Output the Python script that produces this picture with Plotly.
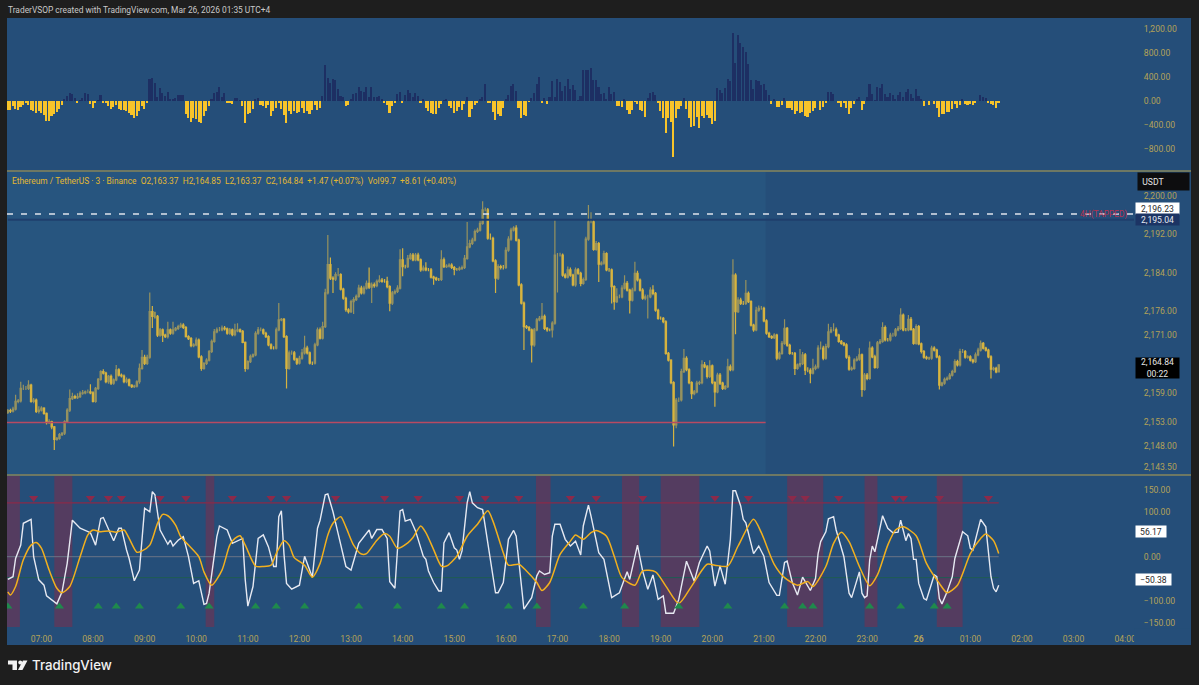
import pandas as pd
import plotly.graph_objects as go

# ETHUSDT 3min bars, 06:21 -> 01:33
times = pd.date_range("2026-03-25 06:21", periods=385, freq="3min")

first_open = 2154.9
closes = [
    2155.3,2155.2,2155.6,2157.2,2157.3,2159.9,2159.9,2159.9,2160.6,2157.2,
    2157.5,2155.1,2155.4,2155.8,2154.7,2152.8,2153.0,2151.9,2149.3,2149.5,
    2150.3,2150.6,2153.0,2155.4,2157.8,2158.2,2158.0,2158.2,2158.9,2159.0,
    2159.2,2159.2,2159.0,2157.2,2159.9,2161.8,2163.4,2163.1,2161.3,2162.4,
    2161.0,2161.7,2163.8,2162.7,2162.5,2161.3,2161.7,2160.6,2160.3,2160.4,
    2161.3,2164.1,2166.4,2165.1,2166.4,2175.9,2174.9,2174.9,2171.0,2172.1,
    2171.0,2170.7,2172.1,2171.4,2172.1,2172.4,2172.8,2173.1,2172.6,2170.7,
    2170.3,2168.8,2169.0,2170.0,2166.5,2164.1,2165.1,2165.8,2167.6,2169.7,
    2171.7,2172.1,2172.1,2172.5,2172.3,2171.4,2172.1,2171.1,2171.9,2172.1,
    2171.8,2169.5,2164.1,2165.5,2166.6,2166.9,2171.4,2172.1,2172.1,2171.4,
    2170.7,2169.0,2168.3,2168.3,2172.1,2174.2,2174.3,2170.7,2164.1,2167.3,
    2167.3,2166.0,2165.2,2166.2,2167.3,2168.3,2167.3,2165.2,2165.2,2169.0,
    2172.1,2170.4,2172.8,2179.8,2185.7,2182.9,2182.7,2183.6,2183.6,2180.6,
    2178.7,2176.3,2175.9,2178.0,2178.4,2179.1,2180.8,2179.8,2180.8,2181.8,
    2181.0,2181.5,2181.3,2182.2,2182.5,2182.2,2182.2,2181.1,2177.7,2179.8,
    2180.1,2180.8,2186.7,2185.3,2185.3,2187.0,2187.7,2186.7,2187.7,2186.7,
    2184.6,2185.0,2184.6,2184.6,2183.1,2182.9,2182.6,2182.6,2186.7,2185.3,
    2185.4,2185.6,2185.1,2184.7,2184.7,2184.9,2185.1,2187.0,2189.4,2190.1,
    2190.8,2192.6,2192.9,2194.3,2197.1,2197.1,2191.2,2191.2,2186.5,2182.9,
    2185.3,2185.1,2185.1,2188.7,2191.0,2192.9,2193.3,2190.8,2181.5,2177.7,
    2172.8,2172.6,2172.1,2169.0,2172.1,2174.2,2174.5,2174.9,2172.4,2172.1,
    2172.1,2173.5,2187.7,2187.7,2187.7,2183.5,2183.1,2184.6,2183.5,2181.5,
    2184.6,2183.9,2181.8,2182.6,2191.0,2194.6,2194.6,2188.9,2190.1,2185.8,
    2186.0,2188.0,2184.6,2184.6,2181.1,2178.0,2179.0,2179.0,2180.8,2181.8,
    2180.4,2178.3,2180.4,2183.9,2182.5,2180.4,2178.7,2179.0,2179.0,2180.4,
    2179.7,2176.2,2174.5,2174.5,2173.8,2167.2,2165.8,2161.1,2152.3,2157.5,
    2157.5,2163.4,2166.2,2163.8,2161.1,2158.8,2159.2,2161.0,2161.1,2164.8,
    2164.4,2162.4,2164.6,2161.1,2159.2,2162.7,2161.0,2159.9,2160.3,2164.4,
    2163.8,2183.5,2175.9,2178.3,2177.6,2177.6,2179.7,2178.0,2173.1,2172.1,
    2176.2,2176.6,2176.6,2174.0,2171.4,2170.7,2170.5,2171.0,2166.2,2167.2,
    2169.3,2172.4,2168.9,2167.2,2167.2,2164.1,2164.8,2165.1,2166.9,2163.7,
    2163.7,2163.1,2164.1,2164.4,2168.3,2168.3,2166.2,2168.6,2171.7,2172.1,
    2172.1,2171.0,2169.7,2169.3,2169.0,2166.4,2163.9,2164.1,2165.8,2166.0,
    2166.9,2159.7,2162.7,2162.0,2168.3,2166.5,2164.3,2169.4,2169.7,2172.6,
    2170.0,2170.0,2171.0,2171.0,2172.1,2172.4,2175.2,2172.1,2172.1,2174.3,
    2172.2,2169.3,2172.8,2169.2,2167.6,2166.4,2166.2,2166.2,2168.3,2167.9,
    2166.5,2160.6,2161.0,2161.8,2162.0,2162.7,2163.4,2165.5,2164.8,2167.6,
    2167.6,2166.4,2166.5,2165.8,2165.5,2166.9,2167.9,2169.3,2168.3,2167.9,
    2166.5,2163.9,2164.1,2163.37,2164.84,
]
wick_up = [
    .3,.4,.5,1.4,.4,1.4,.8,.5,1,.3, .4,.3,.8,.4,.2,.2,.5,.2,.2,.3,
    .3,.2,.3,.4,1.9,.8,.4,.7,.4,.6, .3,.5,1.6,.3,.3,.3,.3,.5,.3,.3,
    .4,.3,1,.3,.3,.3,.5,.3,.2,.3, .3,1,1.5,.5,.5,4,1.2,1,.3,.4,
    .3,.3,1.7,.3,1.7,.3,.4,.5,.4,.3, .3,.3,.3,.5,.3,.3,.3,.4,.3,.4,
    .6,.5,.6,.5,.4,.3,.4,.3,1.5,1.4, .3,.3,.2,.3,.4,.3,.4,.6,.5,.3,
    .3,.3,.3,.4,.5,3.5,.3,.3,.3,.5, .5,.4,.3,.5,.8,2.6,.5,.3,.3,.4,
    .5,.5,1,.9,6.2,1.5,.4,.5,1.4,.3, .3,.3,.3,.4,.5,.4,.7,.5,.5,.6,
    3.3,.5,.5,.4,1,.4,.5,1,.3,.4, .4,.6,2.2,2.4,.4,.7,.4,.4,.4,.5,
    .3,.5,1.2,.4,.4,.3,.3,.3,2,.5, .4,.4,.4,.3,.3,.4,.4,.7,5.2,.8,
    .5,.4,.5,.6,1.8,.5,.4,1,.3,.3, .5,.4,.5,.6,.6,.5,.4,.6,.3,.3,
    .3,.3,.3,.3,.4,.4,.5,2.8,.4,.3, .3,.4,7.3,.4,.5,.3,.4,.7,.5,.3,
    .5,.4,.3,.4,.5,3.5,2,.4,.5,.3, .4,.6,.3,.4,.3,.3,1.8,.5,.6,1.7,
    .5,.3,.5,2.4,.5,.3,.4,.5,.4,.6, 1,.3,.3,.4,.3,.3,.3,.2,.3,.4,
    .5,.6,1.9,.4,.3,.3,.4,.5,.4,1, .6,.4,1.2,.3,.3,.5,.4,.3,.3,1.7,
    .5,3.3,.4,.6,.5,.5,2.8,.4,.3,.3, .7,.6,.5,.3,.3,.3,.3,.4,.3,.4,
    .5,1.9,.3,.3,.3,.3,.3,3,.6,.4, .6,.4,2,.5,.6,1.4,.5,.6,1.7,.6,
    1.4,.5,.3,.3,.3,.3,.4,.4,.4,.6, 1.4,.3,.4,.4,1.4,.4,.4,.4,.5,1.1,
    .4,.4,.5,.5,.4,.5,1.4,.3,.4,.9, .5,.3,.5,.3,.3,.3,.3,.3,.5,.4,
    .3,.3,.3,.4,.4,.4,.4,.5,.4,.6, .5,.3,.3,.3,.3,.5,.5,.6,.3,.3,
    .3,.3,.3,.3,.01,
]
wick_dn = [
    .3,.4,.3,.3,.4,.3,.3,.3,.3,.3, .4,.3,.4,.3,.3,.4,.3,.5,2.2,.3,
    .3,.3,.4,.3,.4,.3,.3,.3,.3,.3, .3,.3,.3,.2,.3,.3,.3,.3,.3,.4,
    .4,.3,.3,.3,.3,.3,.3,.3,.3,.3, .3,.4,.3,.3,.3,.3,2.4,.4,.4,.3,
    1.4,.3,.4,.3,.3,.3,.3,.3,.3,.2, .3,.3,.3,.3,.3,.5,.3,.3,.3,.3,
    .3,.3,.3,.3,.3,.3,.3,.3,.3,.3, .3,.2,.7,.3,.3,.3,.3,.3,.3,.3,
    .3,.3,.3,.3,.3,.3,.3,.3,4.2,.3, .4,.3,.4,.3,.3,.3,.3,.3,.4,.3,
    .3,.3,.3,.3,.3,.4,2.9,.4,.3,.3, .3,.4,.4,.3,2.6,.3,.3,.3,.3,.3,
    .4,3.3,.4,.3,.3,.3,.3,.3,1.7,.4, .3,.3,.3,2,.4,.3,.3,.3,.3,.3,
    .4,.3,.3,.3,.3,1.4,.3,.3,.3,.3, .3,.3,.3,1.2,.3,.3,.3,.3,.3,.3,
    .3,.3,.3,.3,.3,.3,.3,.3,.3,3.1, .4,.4,.4,.3,.3,.3,.3,.3,.3,.3,
    4.9,.3,.3,3.7,.4,.3,.3,.3,.3,.4, .3,1.6,.3,7.8,.3,.3,.3,.3,.3,.3,
    .4,.3,.6,.3,.3,.3,.3,.3,.3,3.7, .3,.3,.3,.4,3.5,1.7,.3,.3,.3,.3,
    .3,2.8,.3,.3,.3,.3,.3,.4,4.5,.3, .4,.3,.3,.3,.3,.3,.3,.3,4.5,.7,
    .4,.3,.3,.3,.3,1.1,.3,.3,.4,.3, .3,.4,.3,.3,3.1,.3,.4,.3,.3,.3,
    .3,.3,4.7,.3,.3,.3,.3,.3,.3,.4, .3,.3,.3,.3,.3,.3,.3,.3,.4,.3,
    .3,.3,.3,.3,.3,1.4,.3,.5,.3,1, .4,2.1,.3,.4,.4,.3,.4,.3,.3,.3,
    .3,.3,.3,.3,.3,.3,.3,.3,.3,.3, .3,1.5,.3,.4,.3,.3,.3,.3,.3,.3,
    .3,.3,.3,.3,.3,.3,.3,.3,.3,.3, .3,.3,.3,.3,.4,.3,.3,.3,.3,.3,
    .3,.9,.3,.3,.3,.3,.3,.3,.3,.3, .3,.3,.3,.3,.4,.3,.3,.3,.3,.3,
    .3,1.9,.3,.3,.01,
]
# top pane histogram
hist = [
    -150,-150,-83,-139,-156,-100,-67,-28,-67,-150,
    -167,-195,-167,-206,-234,-334,-334,-250,-222,-178,
    -139,-67,17,83,139,122,56,-28,11,56,
    139,111,-56,-122,-17,3,100,-17,-28,-83,
    -139,-100,-72,-139,-150,-150,-167,-195,-234,-278,
    -250,-167,-83,-139,-17,361,389,306,67,211,
    139,83,150,17,28,44,100,100,100,-222,
    -278,-345,-289,-295,-350,-361,-250,-167,-83,17,
    139,156,234,67,139,-17,-17,-44,56,56,
    2,-83,-361,-222,-206,-139,28,56,-67,-83,
    -111,-67,-250,-167,-111,-17,-139,-234,-361,-167,
    -222,-167,-195,-178,-122,-195,-167,-222,-156,-72,
    -150,-122,83,600,389,306,372,350,195,83,
    67,-83,-72,28,111,139,234,167,156,239,
    67,234,67,72,83,28,-28,-72,-195,-83,
    -17,111,156,-28,95,178,139,67,139,83,
    -28,17,-111,-167,-195,-222,-211,-122,-44,2,
    17,-83,-122,-195,-167,-100,-145,-56,67,-267,
    -139,-67,-17,28,67,278,-28,-17,-178,-322,
    -222,-245,-111,28,100,256,278,167,-122,-278,
    -234,-245,-11,56,139,278,400,-33,56,-56,
    67,334,67,361,317,167,250,361,206,267,
    183,11,83,517,517,517,556,345,345,234,
    111,128,28,234,111,150,-78,-78,-100,28,
    -145,-211,-156,-11,-56,-156,-167,-261,44,139,
    150,100,-28,-167,-278,-528,-278,-345,-934,-278,
    -139,-83,56,-139,-289,-428,-423,-267,-445,-250,
    -289,-234,-278,-378,-334,211,178,139,211,361,
    334,1140,639,1095,973,901,823,612,345,195,
    345,334,261,278,178,95,-56,28,-100,-100,
    -72,56,-122,-111,-150,-222,-167,-206,-178,-250,
    -261,-206,-167,-111,0,-156,-100,-28,150,156,
    111,0,-28,-95,-28,-122,-222,-122,-56,17,
    67,-150,-56,67,278,122,11,234,222,278,
    122,67,139,95,28,100,156,67,150,195,
    111,44,195,78,39,-83,0,-72,0,-56,
    -111,-267,-222,-211,-178,-178,-139,-44,-122,-67,
    17,-44,-72,-56,-72,-17,0,100,67,56,
    -28,-56,-67,-111,-39,
]
assert len(closes) == len(wick_up) == len(wick_dn) == len(hist) == 385

# bottom pane oscillator, turning points only (bar number, value)
fast_bars = [
    0,2,3,5,6,9,10,12,14,15,19,21,23,25,28,32,34,36,37,41,43,44,46,47,49,51,53,55,56,57,
    59,62,63,64,66,68,70,72,74,76,77,78,81,82,85,87,91,92,93,95,97,99,101,103,104,105,106,107,108,110,
    113,115,118,120,121,123,124,126,128,131,133,136,140,141,143,145,147,148,150,152,153,154,156,158,161,162,163,165,167,168,
    169,171,173,174,175,176,178,179,180,182,184,185,187,189,190,192,194,196,197,199,200,203,205,206,208,210,211,212,214,216,
    218,220,222,223,225,226,229,231,234,237,240,241,244,246,248,250,252,254,255,258,260,263,266,268,271,272,274,276,278,280,
    281,282,284,285,286,289,291,293,295,298,299,301,302,304,306,308,311,313,314,315,317,318,320,321,323,324,326,327,330,331,
    332,333,334,335,336,339,341,343,345,346,348,349,350,351,352,353,355,356,359,360,361,362,364,366,367,370,372,373,374,377,
    379,381,382,383,384,
]
fast_vals = [
    -51,-45,-4,26,75,84,0,-52,-64,-88,-106,-79,-15,82,64,54,26,86,88,36,64,64,15,-4,-54,-30,109,101,146,139,
    60,28,37,24,37,45,0,-60,-54,-107,-105,-82,45,69,60,30,41,-52,-111,-67,41,49,22,-22,-22,90,103,7,-60,-73,
    -64,1,-46,64,82,139,141,101,52,-22,-30,30,60,41,61,61,41,-56,-71,103,106,80,84,58,1,-6,-32,-58,-77,-77,
    31,54,20,15,-6,13,121,146,121,110,106,69,-6,-81,-81,-58,39,59,46,-73,-118,-92,-43,-32,-40,-36,46,73,73,39,
    24,35,4,69,116,91,9,-6,-92,-81,-34,-51,26,-32,-73,-41,-96,-88,-127,-127,-96,-10,-55,-13,24,13,-66,-21,-62,39,
    148,148,114,84,76,7,24,1,-58,-87,-87,-13,-10,-58,-86,-46,-76,-49,7,34,56,85,90,60,19,0,-82,-92,-34,-82,
    -92,-88,-7,24,11,92,64,54,55,82,36,52,41,-6,-6,-60,-94,-97,-41,-45,-94,-106,-79,-45,-4,56,47,19,15,84,
    67,-45,-71,-79,-64,
]
slow_bars = [
    0,1,3,6,9,11,13,16,19,21,24,28,31,33,36,39,42,45,47,50,52,55,58,60,62,65,67,70,74,76,
    79,83,86,88,90,92,96,99,102,104,107,109,111,115,118,121,124,126,129,131,134,137,139,143,146,148,151,155,157,160,
    162,165,168,170,174,178,182,186,188,192,194,198,201,205,207,210,214,218,220,223,226,228,232,235,238,243,246,251,255,260,
    265,271,274,279,283,289,292,297,301,306,310,312,317,320,323,326,330,334,337,341,344,347,352,356,361,364,368,373,377,379,
    382,384,
]
slow_vals = [
    -79,-86,-67,-7,26,32,19,-30,-71,-81,-67,0,49,60,56,58,55,60,41,10,13,26,75,95,92,71,45,26,0,-34,
    -64,-30,26,41,47,26,-21,-22,-19,7,36,26,-2,-19,-46,-15,49,75,90,67,26,6,7,37,52,46,19,31,43,69,
    54,16,-21,-21,1,46,73,103,80,9,-19,-17,-32,-58,-76,-58,5,35,49,39,54,59,46,1,-47,-64,-32,-34,-66,-105,
    -66,-17,-19,-21,24,84,54,-17,-47,-64,-56,-67,-22,30,55,34,-22,-65,-41,26,60,67,47,-15,-60,-81,-64,7,41,51,
    36,7,
]
assert len(fast_bars) == len(fast_vals) and len(slow_bars) == len(slow_vals)

ob_bars = [10,32,39,44,59,69,87,102,108,127,146,159,175,185,198,218,228,246,274,287,304,309,322,344,347,361,380]
os_bars = [0,20,35,42,51,67,78,96,104,115,136,151,168,177,194,205,223,239,260,279,301,308,312,334,346,359,364]
ob_level = 121
os_level = -47

zone_start = ["2026-03-25 06:20","2026-03-25 07:15","2026-03-25 10:11","2026-03-25 16:35","2026-03-25 18:15",
              "2026-03-25 19:00","2026-03-25 21:27","2026-03-25 22:57","2026-03-26 00:21"]
zone_end = ["2026-03-25 06:35","2026-03-25 07:36","2026-03-25 10:21","2026-03-25 16:52","2026-03-25 18:35",
            "2026-03-25 19:45","2026-03-25 22:09","2026-03-25 23:12","2026-03-26 00:51"]

hour_ticks = list(pd.date_range("2026-03-25 07:00", periods=22, freq="1h"))
hour_labels = ["07:00","08:00","09:00","10:00","11:00","12:00","13:00","14:00","15:00","16:00","17:00",
               "18:00","19:00","20:00","21:00","22:00","23:00","<b>26</b>","01:00","02:00","03:00","04:00"]
hist_ticks = [1200,800,400,0,-400,-800]
hist_labels = ["1,200.00","800.00","400.00","0.00","−400.00","−800.00"]
price_ticks = [2200,2192,2184,2176,2171,2159,2153,2148,2143.5]
price_labels = ["2,200.00","2,192.00","2,184.00","2,176.00","2,171.00","2,159.00","2,153.00","2,148.00","2,143.50"]
cci_ticks = [150,100,0,-100,-150]
cci_labels = ["150.00","100.00","0.00","−100.00","−150.00"]

level_4h = 2196.23
level_blue = 2195.04
level_red = 2152.8
last_price = 2164.84
cci_tag_a = 56.17
cci_tag_b = -50.38

W, H = 1199, 685
PANEL = "#254e79"
GOLD = "#b3a258"
YELLOW = "#f8c42a"
FONT = "Roboto"
TXT = 8.6
x_start = "2026-03-25 06:20:00"
x_end = "2026-03-26 04:10:24"
light_end = "2026-03-25 21:02"


def px(x):
    return x / W


def py(y):
    return 1 - y / H


def dom(top, bottom):
    return [py(bottom), py(top)]


opens = [first_open] + closes[:-1]
highs = [max(o, c) + w for o, c, w in zip(opens, closes, wick_up)]
lows = [min(o, c) - w for o, c, w in zip(opens, closes, wick_dn)]
t = list(times.strftime("%Y-%m-%d %H:%M"))

fig = go.Figure()

fig.add_trace(go.Bar(x=t, y=hist, width=110000, yaxis="y",
                     marker=dict(color=[YELLOW if v < 0 else "#1d2f63" for v in hist], line_width=0)))

fig.add_trace(go.Scatter(x=[t[0], x_end], y=[level_blue, level_blue], yaxis="y2", mode="lines",
                         line=dict(color="#1f3f6d", width=2)))
fig.add_trace(go.Scatter(x=[x_start, light_end], y=[level_red, level_red], yaxis="y2", mode="lines",
                         line=dict(color="#b84a62", width=1.5)))
fig.add_trace(go.Candlestick(x=t, open=opens, high=highs, low=lows, close=closes, yaxis="y2", whiskerwidth=0,
                             increasing=dict(line=dict(color="#96925f", width=1.2), fillcolor="#96925f"),
                             decreasing=dict(line=dict(color="#d6b340", width=1.2), fillcolor=YELLOW)))
fig.add_trace(go.Scatter(x=[x_start, x_end], y=[level_4h, level_4h], yaxis="y2", mode="lines",
                         line=dict(color="#dfe4ec", width=1.5, dash="6px,8px")))

fig.add_trace(go.Scatter(x=[x_start, t[-1]], y=[0, 0], yaxis="y3", mode="lines",
                         line=dict(color="#6b7486", width=1)))
fig.add_trace(go.Scatter(x=[x_start, t[-1]], y=[ob_level, ob_level], yaxis="y3", mode="lines",
                         line=dict(color="#8a2a48", width=1.2)))
fig.add_trace(go.Scatter(x=[x_start, t[-1]], y=[os_level, os_level], yaxis="y3", mode="lines",
                         line=dict(color="#1f5d54", width=1)))
fig.add_trace(go.Scatter(x=[t[i] for i in fast_bars], y=fast_vals, yaxis="y3", mode="lines",
                         line=dict(color="#e6e9f2", width=1.4)))
fig.add_trace(go.Scatter(x=[t[i] for i in slow_bars], y=slow_vals, yaxis="y3", mode="lines",
                         line=dict(color="#f2b01e", width=1.5, shape="spline", smoothing=0.7)))
fig.add_trace(go.Scatter(x=[t[i] for i in ob_bars], y=[132] * len(ob_bars), yaxis="y3", mode="markers",
                         marker=dict(symbol="triangle-down", size=8, color="#8c2a4a")))
fig.add_trace(go.Scatter(x=[t[i] for i in os_bars], y=[-112] * len(os_bars), yaxis="y3", mode="markers",
                         marker=dict(symbol="triangle-up", size=8, color="#1f8a4c")))

shapes = [
    dict(type="rect", xref="paper", yref="paper", layer="below", x0=px(7), x1=px(1193), y0=py(645), y1=py(18),
         fillcolor=PANEL, line_width=0),
    dict(type="rect", xref="x", yref="y2", layer="below", x0=x_start, x1=light_end, y0=2142.08, y1=2205,
         fillcolor="#27557f", line_width=0),
]
for a, b in zip(zone_start, zone_end):
    shapes.append(dict(type="rect", xref="x", yref="y3", layer="below", x0=a, x1=b, y0=-158, y1=181.3,
                       fillcolor="#543c60", line_width=0))
for y in (171, 475):
    shapes.append(dict(type="line", xref="paper", yref="paper", x0=px(7), x1=px(1193), y0=py(y), y1=py(y),
                       line=dict(color="#b8a24e", width=1)))
# price scale cuts the last time label
shapes.append(dict(type="rect", xref="paper", yref="paper", layer="above", x0=px(1136), x1=px(1193),
                   y0=py(645), y1=py(628.5), fillcolor=PANEL, line_width=0))
# logo
logo_t = [(8, 660.5), (17, 660.5), (17, 670), (12.5, 670), (12.5, 664.5), (8, 664.5)]
logo_v = [(23, 660.5), (27.5, 660.5), (22.5, 670), (18, 670)]
for pts in (logo_t, logo_v):
    path = "M " + " L ".join(f"{px(a):.5f} {py(b):.5f}" for a, b in pts) + " Z"
    shapes.append(dict(type="path", xref="paper", yref="paper", path=path, fillcolor="#f2f2f2", line_width=0))
shapes.append(dict(type="circle", xref="paper", yref="paper", x0=px(18.3), x1=px(22.3), y0=py(664.6), y1=py(660.6),
                   fillcolor="#f2f2f2", line_width=0))


def tag(text, y, yref, w, h, bg, color):
    return dict(text=text, xref="paper", x=px(1137), xanchor="left", yref=yref, y=y, yanchor="middle",
                width=w, height=h, bgcolor=bg, borderpad=0, showarrow=False, align="center",
                font=dict(family=FONT, size=TXT, color=color))


annotations = [
    dict(text="TraderVSOP created with TradingView.com, Mar 26, 2026 01:35 UTC+4", xref="paper", yref="paper",
         x=px(6), y=py(10), xanchor="left", yanchor="middle", showarrow=False,
         font=dict(family=FONT, size=8.4, color="#c9c9c9")),
    dict(text="Ethereum / TetherUS · 3 · Binance  O2,163.37  H2,164.85  L2,163.37  C2,164.84  +1.47 (+0.07%)  Vol99.7  +8.61 (+0.40%)",
         xref="paper", yref="paper", x=px(10), y=py(181), xanchor="left", yanchor="middle", showarrow=False,
         font=dict(family=FONT, size=8.4, color="#e3b832")),
    dict(text="TradingView", xref="paper", yref="paper", x=px(30), y=py(665), xanchor="left", yanchor="middle",
         showarrow=False, font=dict(family="Inter", size=13.3, weight=500, color="#f2f2f2")),
    dict(text="&nbsp;&nbsp;USDT", xref="paper", yref="paper", x=px(1139), y=py(181.5), xanchor="left", yanchor="middle",
         width=51, height=17, bgcolor="#0d0d0f", borderpad=0, showarrow=False, align="left",
         font=dict(family=FONT, size=TXT, color="#e6e6e6")),
    dict(text="4H(TAPPED)", xref="paper", x=px(1132), xanchor="right", yref="y2", y=level_4h, yanchor="middle",
         showarrow=False, font=dict(family=FONT, size=8.4, color="#b5314f")),
    tag("2,196.23", level_4h + 1.17, "y2", 43, 11, "#ffffff", "#2a2a2a"),
    tag("2,195.04", level_blue, "y2", 43, 11, "#1c3464", "#e6e9f2"),
    tag(f"{last_price:,.2f}<br>00:22", last_price - 0.65, "y2", 43, 20, "#000000", "#e6e6e6"),
    tag("56.17", cci_tag_a, "y3", 30, 11, "#ffffff", "#2a2a2a"),
    tag("−50.38", cci_tag_b, "y3", 35, 11, "#ffffff", "#2a2a2a"),
]

tick_font = dict(family=FONT, size=TXT, color=GOLD)
y_common = dict(side="right", anchor="x", showgrid=False, zeroline=False, showline=False,
                ticks="outside", ticklen=7, tickcolor="rgba(0,0,0,0)", tickfont=tick_font, tickmode="array", fixedrange=True)

fig.update_layout(
    margin=dict(l=0, r=0, t=0, b=0),
    paper_bgcolor="#1e1e1e", plot_bgcolor="rgba(0,0,0,0)",
    showlegend=False, hovermode=False, bargap=0,
    shapes=shapes, annotations=annotations,
    xaxis=dict(domain=[px(7), px(1136)], anchor="y3", type="date", range=[x_start, x_end],
               rangeslider=dict(visible=False), showgrid=False, zeroline=False, showline=False,
               tickmode="array", tickvals=hour_ticks, ticktext=hour_labels, tickfont=tick_font,
               ticks="outside", ticklen=3, tickcolor="rgba(0,0,0,0)"),
    yaxis=dict(domain=dom(18, 170), range=[-1150, 1383.3], tickvals=hist_ticks, ticktext=hist_labels, **y_common),
    yaxis2=dict(domain=dom(172, 474), range=[2142.08, 2205], tickvals=price_ticks, ticktext=price_labels, **y_common),
    yaxis3=dict(domain=dom(476, 628), range=[-160.2, 181.3], tickvals=cci_ticks, ticktext=cci_labels, **y_common),
)

fig.write_html("out.html", config=dict(displayModeBar=False), default_width="1199px", default_height="685px",
               post_script="document.body.style.margin='0';document.documentElement.style.overflow='hidden';")
